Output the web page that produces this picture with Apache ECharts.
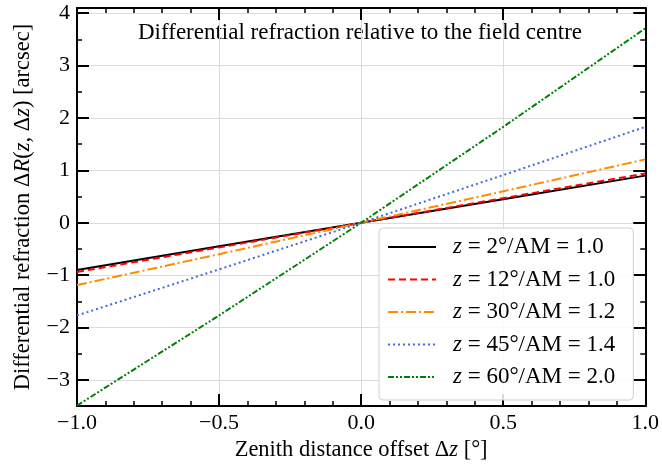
<!DOCTYPE html>
<html lang="en">
<head>
    <meta charset="UTF-8">
    <title>Differential refraction</title>
    <script src="https://cdn.jsdelivr.net/npm/echarts@6/dist/echarts.min.js"></script>
    <style type="text/css">
        html, body { margin: 0; padding: 0; background: #fff; }
        #chart { width: 662px; height: 467px; }
    </style>
</head>
<body>
<div id="chart"></div>
<script type="text/javascript">
    // offsets in degrees
    var dz = [-1.0, -0.5, 0.0, 0.5, 1.0];
    // differential refraction (arcsec)
    var z2  = [-0.90, -0.45, 0, 0.45, 0.90];
    var z12 = [-0.94, -0.47, 0, 0.47, 0.94];
    var z30 = [-1.19, -0.60, 0, 0.60, 1.21];
    var z45 = [-1.77, -0.89, 0, 0.91, 1.83];
    var z60 = [-3.49, -1.77, 0, 1.83, 3.71];
    var names = ['z = 2°/AM = 1.0', 'z = 12°/AM = 1.0', 'z = 30°/AM = 1.2', 'z = 45°/AM = 1.4', 'z = 60°/AM = 2.0'];
    var yTicks = [-3, -2, -1, 0, 1, 2, 3, 4];

    var FONT = 'Liberation Serif';
    var chart = echarts.init(document.getElementById('chart'));

    function pts(ys) {
        var out = [];
        for (var i = 0; i < dz.length; i++) out.push([dz[i], ys[i]]);
        return out;
    }
    function minus(s) { return String(s).replace('-', '\u2212'); }

    var styles = [
        {color: '#000000', type: 'solid'},
        {color: '#ff0000', type: [7, 4]},
        {color: '#ff8c00', type: [10, 3, 2, 3]},
        {color: '#4169e1', type: [2, 3]},
        {color: '#008000', type: [6, 2, 2, 2, 2, 2]}
    ];
    var allData = [z2, z12, z30, z45, z60];
    var series = [];
    for (var k = 0; k < allData.length; k++) {
        series.push({
            name: names[k],
            type: 'line',
            xAxisIndex: 0,
            yAxisIndex: 0,
            data: pts(allData[k]),
            symbol: 'none',
            symbolSize: 0,
            silent: true,
            lineStyle: {color: styles[k].color, type: styles[k].type, width: 2},
            itemStyle: {color: styles[k].color}
        });
    }

    var line = {show: true, onZero: false, lineStyle: {color: '#000', width: 2}};
    var xMajor = {
        type: 'value', min: -1, max: 1, interval: 0.5,
        axisLine: line,
        axisTick: {inside: true, length: 12, lineStyle: {color: '#000', width: 2}},
        splitLine: {show: false}
    };
    var xMinor = {
        type: 'value', min: -1, max: 1, interval: 0.1,
        axisLine: {show: false, onZero: false},
        axisTick: {inside: true, length: 5, lineStyle: {color: '#000', width: 1.5}},
        axisLabel: {show: false},
        splitLine: {show: false}
    };
    var yMajor = {
        type: 'value', min: -3.5, max: 4.1,
        axisLine: line,
        axisTick: {inside: true, length: 12, customValues: yTicks, lineStyle: {color: '#000', width: 2}},
        splitLine: {show: false}
    };
    var yMinor = {
        type: 'value', min: -3.5, max: 4.1, interval: 0.5,
        axisLine: {show: false, onZero: false},
        axisTick: {inside: true, length: 5, lineStyle: {color: '#000', width: 1.5}},
        axisLabel: {show: false},
        splitLine: {show: false}
    };
    var nameRich = {
        n: {fontFamily: FONT, fontSize: 22.5, color: '#000'},
        i: {fontFamily: FONT, fontSize: 22.5, fontStyle: 'italic', color: '#000'}
    };

    var option = {
        animation: false,
        textStyle: {fontFamily: FONT},
        grid: {left: 77, right: 16, top: 8, bottom: 56},
        graphic: [{
            type: 'text', x: 360, y: 33, silent: true,
            style: {text: 'Differential refraction relative to the field centre', fontFamily: FONT, fontSize: 23,
                fill: '#000', align: 'center', verticalAlign: 'middle'}
        }],
        legend: {
            data: names,
            orient: 'vertical',
            left: 379, top: 228,
            itemWidth: 48, itemHeight: 14, itemGap: 8.5,
            padding: [7, 18, 11, 8],
            backgroundColor: 'rgba(255,255,255,0.85)',
            borderColor: '#d0d0d0', borderWidth: 1, borderRadius: 4,
            itemStyle: {opacity: 0},
            formatter: function (n) { return '{i|z}' + n.substring(1); },
            textStyle: {
                fontFamily: FONT, fontSize: 23, color: '#000', lineHeight: 24, padding: [0, 0, 0, 12],
                rich: {i: {fontFamily: FONT, fontStyle: 'italic', fontSize: 23, color: '#000'}}
            }
        },
        xAxis: [
            Object.assign({}, xMajor, {
                position: 'bottom',
                name: '{n|Zenith distance offset Δ}{i|z}{n| [°]}',
                nameLocation: 'middle', nameGap: 21,
                nameTextStyle: {rich: nameRich},
                axisLabel: {fontFamily: FONT, fontSize: 22, color: '#000', margin: 6,
                    formatter: function (v) { return minus(v.toFixed(1)); }},
                splitLine: {show: true, lineStyle: {color: '#dcdcdc', width: 1}}
            }),
            Object.assign({}, xMajor, {position: 'top', axisLabel: {show: false}}),
            Object.assign({}, xMinor, {position: 'bottom'}),
            Object.assign({}, xMinor, {position: 'top'})
        ],
        yAxis: [
            Object.assign({}, yMajor, {
                position: 'left',
                name: '{n|Differential refraction Δ}{i|R}{n|(}{i|z}{n|, Δ}{i|z}{n|) [arcsec]}',
                nameLocation: 'middle', nameGap: 42, nameRotate: 90,
                nameTextStyle: {rich: nameRich},
                axisLabel: {fontFamily: FONT, fontSize: 22, color: '#000', margin: 7, customValues: yTicks,
                    formatter: function (v) { return minus(v); }},
                splitLine: {show: true, lineStyle: {color: '#dcdcdc', width: 1}}
            }),
            Object.assign({}, yMinor, {position: 'left'}),
            Object.assign({}, yMajor, {position: 'right', axisLabel: {show: false}}),
            Object.assign({}, yMinor, {position: 'right'})
        ],
        series: series
    };
    chart.setOption(option);
</script>
</body>
</html>
